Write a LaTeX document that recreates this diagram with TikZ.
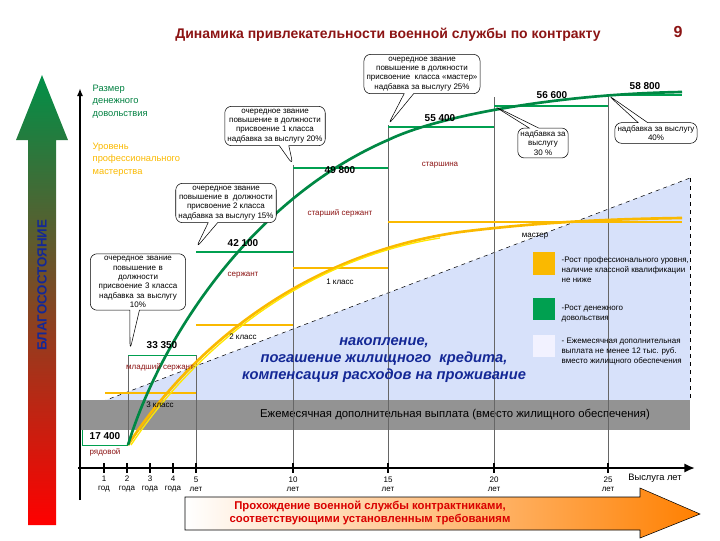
\documentclass[tikz,border=0pt]{standalone}
\usepackage{fontspec}
\setmainfont{Liberation Sans}
\usetikzlibrary{shapes.callouts,arrows.meta}
\definecolor{dred}{RGB}{140,20,20}
\definecolor{tgreen}{RGB}{0,160,80}
\definecolor{torange}{RGB}{250,185,0}
\definecolor{tblue}{RGB}{20,40,150}
\definecolor{lblue}{RGB}{215,225,250}
\tikzset{
 val/.style={font=\fontsize{7.5}{8}\selectfont\bfseries},
 rank/.style={font=\fontsize{6}{7}\selectfont, text=dred},
 cls/.style={font=\fontsize{6}{7}\selectfont},
 call/.style={rectangle callout, draw, fill=white, rounded corners=5pt, align=center, font=\fontsize{6}{7}\selectfont, inner sep=2pt},
 stepg/.style={tgreen, line width=1.2pt},
 stepy/.style={torange, line width=1.2pt},
 vline/.style={gray!80!black, line width=0.4pt},
 tick/.style={font=\fontsize{6}{7}\selectfont, align=center},
 legt/.style={font=\fontsize{6}{7.5}\selectfont, align=left, anchor=north west},
}
\begin{document}
\begin{tikzpicture}[x=0.75pt,y=-0.75pt]
\useasboundingbox (0,0) rectangle (720,540);
% blue region
\fill[lblue] (80,410) -- (690,178) -- (690,400) -- (80,400) -- cycle;
\draw[dashed] (80,410) -- (690,178);
\draw[dashed] (690,178) -- (690,400);
% grey band
\fill[gray!85] (80,400) rectangle (690,430);
\node[font=\fontsize{8.5}{9}\selectfont] (band) at (455,415) {Ежемесячная дополнительная выплата (вместо жилищного обеспечения)};
% vertical lines
\draw[vline] (196,355) -- (196,468);
\draw[vline] (293,165) -- (293,468);
\draw[vline] (388,125) -- (388,468);
\draw[vline] (494,97) -- (494,468);
\draw[vline] (608,95) -- (608,468);
\draw[vline] (128,355) -- (128,445);
% axes
\draw[line width=1.2pt,-{Latex[length=6pt]}] (80,500) -- (80,88);
\draw[line width=2pt,-{Latex[length=8pt,width=7pt]}] (78,468) -- (695,468);
% left arrow
\shade[top color=tgreen!90!black, middle color=yellow, bottom color=red] (28,525) -- (28,140) -- (16,140) -- (42,75) -- (68,140) -- (56,140) -- (56,525) -- cycle;
\node[rotate=90, font=\fontsize{10}{10}\selectfont\bfseries, text=tblue] (blag) at (42,285) {БЛАГОСОСТОЯНИЕ};
% bottom arrow
\shade[left color=white, right color=orange, draw=black, line width=0.4pt] (185,497) -- (640,497) -- (640,488) -- (700,514) -- (640,538) -- (640,530) -- (185,530) -- cycle;
\node[font=\fontsize{8.5}{10}\selectfont\bfseries, text=red!85!black, align=center] (prox) at (370,513) {Прохождение военной службы контрактниками,\\соответствующими установленным требованиям};
% ticks
\foreach \x/\a/\b in {104/1/год,127/2/года,150/3/года,173/4/года,196/5/лет,293/10/лет,388/15/лет,494/20/лет,608/25/лет}{
 \draw[line width=1pt] (\x,463) -- (\x,473);
 \node[tick] at (\x,484) {\a\\\b};
}
\node[font=\fontsize{7}{8}\selectfont] (vys) at (655,478) {Выслуга лет};
% steps green
\draw[tgreen, line width=0.6pt] (82,445) -- (128,445);
\draw[tgreen, line width=0.6pt] (128,355) -- (196,355);
\draw[stepg] (196,252) -- (293,252);
\draw[stepg] (293,168) -- (388,168);
\draw[stepg] (388,127) -- (494,127);
\draw[stepg] (494,106) -- (608,106);
\draw[stepg] (608,95) -- (682,95);
\draw[tgreen, line width=0.6pt] (82,430) -- (82,445);
% steps yellow
\draw[stepy] (105,393) -- (196,393);
\draw[stepy] (196,325) -- (293,325);
\draw[stepy] (293,268) -- (388,268);
\draw[stepy] (388,222) -- (682,222);
% curves
\draw[torange, line width=2pt] (128,445) .. controls (190,350) and (300,255) .. (460,232) .. controls (540,222) and (610,219) .. (682,218);
\draw[yellow!90!orange, line width=1pt] (131,445) .. controls (193,352) and (300,260) .. (440,238);
\draw[tgreen!85!black, line width=2pt] (128,445) .. controls (160,340) and (250,200) .. (388,140) .. controls (440,115) and (560,94) .. (682,92);
% labels
\node[val] (v1) at (105,436) {17 400};
\node[rank] (r1) at (105,452) {рядовой};
\node[val] (v2) at (162,345) {33 350};
\node[rank] (r2) at (160,367) {младший сержант};
\node[cls] (c3) at (160,405) {3 класс};
\node[val] (v3) at (243,243) {42 100};
\node[rank] (r3) at (243,275) {сержант};
\node[cls] (c2) at (243,337) {2 класс};
\node[val] (v4) at (340,170) {49 800};
\node[rank] (r4) at (340,213) {старший сержант};
\node[cls] (c1) at (340,282) {1 класс};
\node[val] (v5) at (440,118) {55 400};
\node[rank] (r5) at (440,165) {старшина};
\node[val] (v6) at (552,95) {56 600};
\node[cls] (cm) at (535,236) {мастер};
\node[val] (v7) at (645,86) {58 800};
% left texts
\node[anchor=north west, align=left, font=\fontsize{7}{9.5}\selectfont, text=tgreen!80!black] (razm) at (88,80) {Размер\\денежного\\довольствия};
\node[anchor=north west, align=left, font=\fontsize{7}{9.5}\selectfont, text=torange] (urov) at (88,138) {Уровень\\профессионального\\мастерства};
% callouts
\node[call, callout absolute pointer={(388,125)}] (k1) at (422,74) {очередное звание\\повышение в должности\\присвоение \ класса «мастер»\\надбавка за выслугу 25\%};
\node[call, callout absolute pointer={(293,165)}] (k2) at (275,126) {очередное звание\\повышение в должности\\присвоение 1 класса\\надбавка за выслугу 20\%};
\node[call, callout absolute pointer={(196,248)}] (k3) at (226,203) {очередное звание\\повышение в \ должности\\присвоение 2 класса\\надбавка за выслугу 15\%};
\node[call, callout absolute pointer={(130,350)}, text width=90pt*0.75] (k4) at (138,282) {очередное звание\\повышение в\\должности\\присвоение 3 класса\\надбавка за выслугу\\10\%};
\node[call, callout absolute pointer={(494,106)}] (k5) at (543,143) {надбавка за\\выслугу\\30 \%};
\node[call, callout absolute pointer={(608,95)}] (k6) at (656,133) {надбавка за выслугу\\40\%};
% blue text
\node[font=\fontsize{11}{13}\selectfont\bfseries\itshape, text=tblue, align=center] (nak) at (384,360) {накопление,\\погашение жилищного \ кредита,\\компенсация расходов на проживание};
% legend
\fill[torange] (533,252) rectangle (555,275);
\fill[tgreen] (533,298) rectangle (555,320);
\fill[blue!5] (533,335) rectangle (555,357);
\node[legt] (l1) at (557,252) {-Рост профессионального уровня,\\наличие классной квалификации\\не ниже};
\node[legt] (l2) at (557,300) {-Рост денежного\\довольствия};
\node[legt] (l3) at (557,333) {- Ежемесячная дополнительная\\выплата не менее 12 тыс. руб.\\вместо жилищного обеспечения};
% title
\node[font=\fontsize{10.5}{12}\selectfont\bfseries, text=dred] (title) at (388,35) {Динамика привлекательности военной службы по контракту};
\node[font=\fontsize{12}{12}\selectfont\bfseries, text=dred] (num) at (678,32) {9};
\end{tikzpicture}
\end{document}
